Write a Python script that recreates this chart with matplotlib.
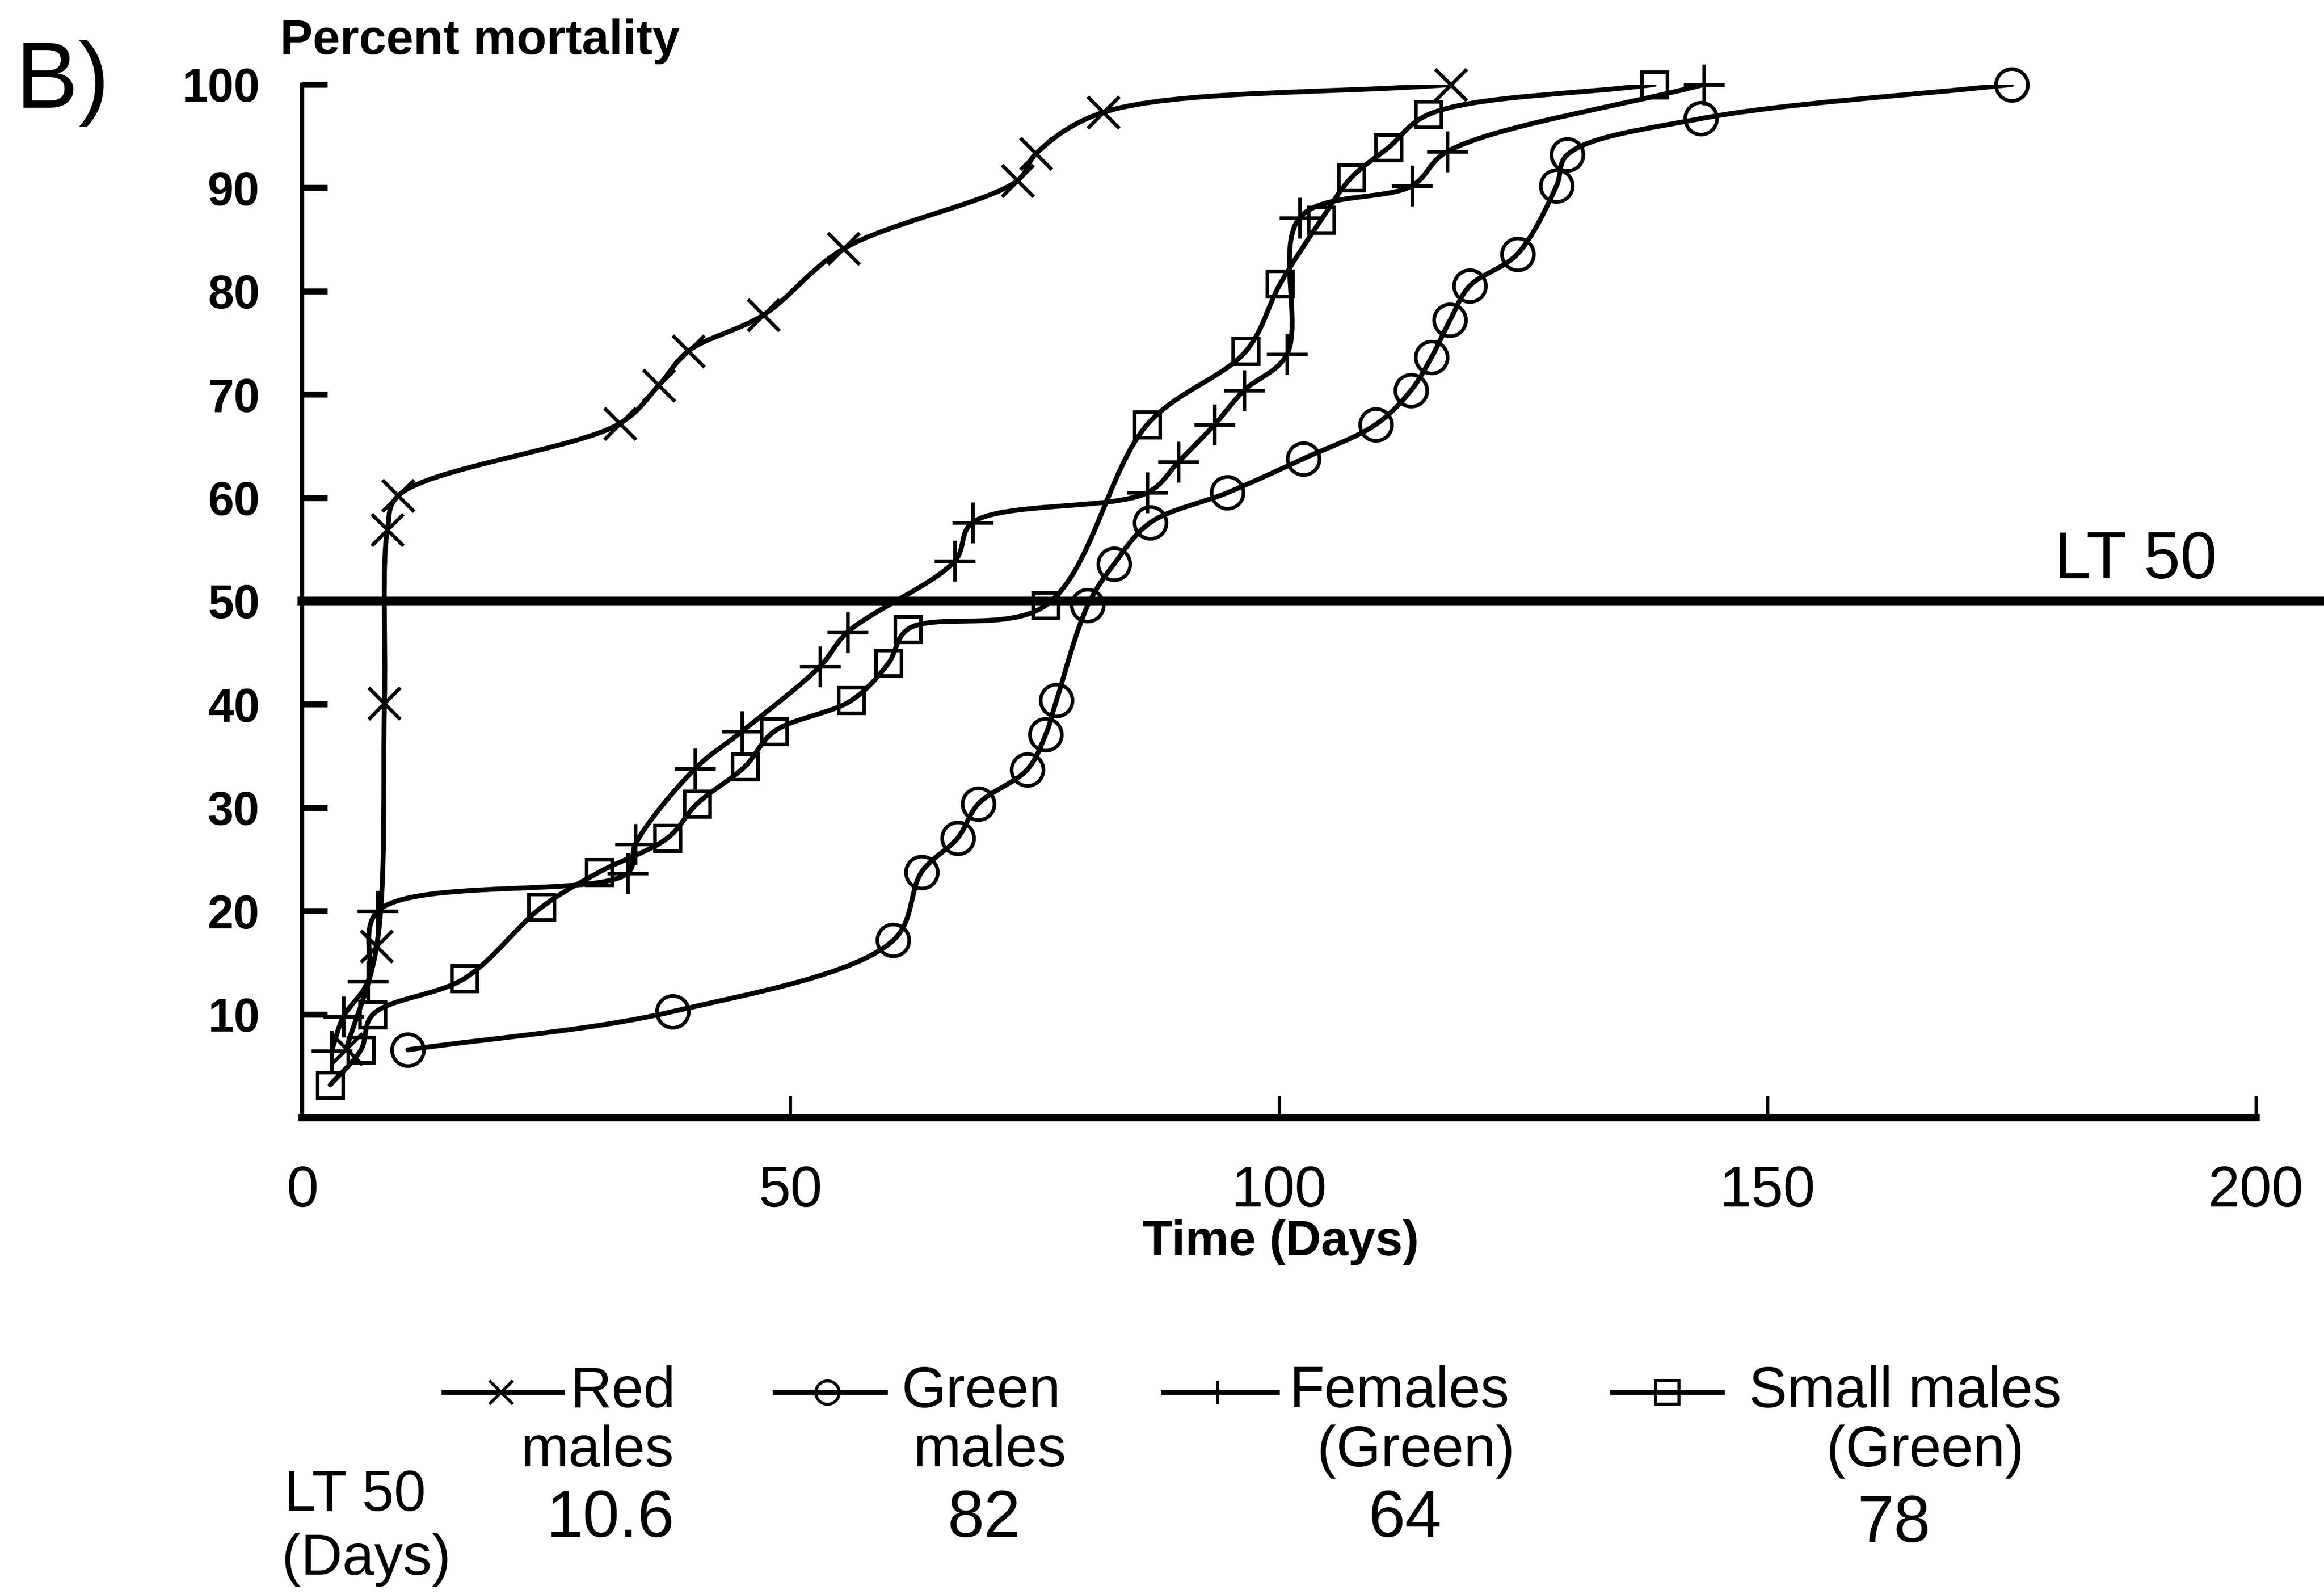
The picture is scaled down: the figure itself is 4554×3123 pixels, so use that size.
import numpy as np
import matplotlib
matplotlib.use("Agg")
import matplotlib.pyplot as plt
from matplotlib.lines import Line2D
from matplotlib.path import Path
from matplotlib.patches import PathPatch

plt.rcParams["font.family"] = ["Liberation Sans", "DejaVu Sans"]

# values (days, percent mortality)
RED_DAYS = [4.5, 7.6, 8.4, 8.7, 9.8, 32.5, 36.5, 39.5, 47.2, 55.4, 73.2, 75.1, 82.0, 117.6]
RED_PCT = [6.7, 16.6, 40.1, 56.9, 60.2, 67.2, 70.9, 74.2, 77.7, 84.1, 90.7, 93.3, 97.3, 100.0]

GREEN_DAYS = [10.8, 37.9, 60.5, 63.4, 67.1, 69.2, 74.2, 76.1, 77.2, 80.4, 83.1, 86.8,
              94.7, 102.5, 109.9, 113.5, 115.6, 117.5, 119.5, 124.4, 128.4, 129.5, 143.2, 175.0]
GREEN_PCT = [6.6, 10.3, 17.2, 23.8, 27.1, 30.4, 33.7, 37.1, 40.4, 49.6, 53.6, 57.6,
             60.5, 63.8, 67.1, 70.4, 73.6, 77.2, 80.5, 83.6, 90.2, 93.2, 96.7, 100.0]

FEMALE_DAYS = [3.0, 4.2, 6.7, 7.7, 33.3, 34.1, 40.2, 45.0, 53.0, 55.8, 66.8, 68.6,
               86.5, 89.7, 93.4, 96.4, 100.8, 102.1, 113.6, 117.2, 143.5]
FEMALE_PCT = [6.5, 9.8, 13.2, 20.0, 23.7, 26.5, 33.8, 37.4, 43.7, 47.0, 53.9, 57.6,
              60.5, 63.5, 67.1, 70.4, 73.9, 87.1, 90.2, 93.5, 100.0]

SMALL_DAYS = [2.85, 6.0, 7.2, 16.6, 24.5, 30.4, 37.4, 40.4, 45.3, 48.3, 56.2, 60.0,
              62.0, 76.1, 86.5, 96.6, 100.1, 104.3, 107.4, 111.2, 115.3, 138.4]
SMALL_PCT = [3.2, 6.6, 10.0, 13.5, 20.4, 23.8, 27.1, 30.4, 34.0, 37.4, 40.4, 44.0,
             47.3, 49.6, 67.1, 74.2, 80.7, 86.9, 91.0, 93.9, 97.1, 100.0]

LT50_LEVEL = 50
LT50_VALUES = ["10.6", "82", "64", "78"]
X_TICKS = [0, 50, 100, 150, 200]
Y_TICKS = [10, 20, 30, 40, 50, 60, 70, 80, 90, 100]

Y_ASPECT = 1.057  # one percent is a bit taller than one day on the page


def smooth_path(days, pct):
    # centripetal catmull-rom through the read points, handed to matplotlib as beziers
    p = np.column_stack([np.asarray(days, float), np.asarray(pct, float) * Y_ASPECT])
    p = np.vstack([2 * p[0] - p[1], p, 2 * p[-1] - p[-2]])
    verts = [p[1]]
    for i in range(1, len(p) - 2):
        p0, p1, p2, p3 = p[i - 1], p[i], p[i + 1], p[i + 2]
        d1 = np.linalg.norm(p1 - p0) ** 0.5
        d2 = np.linalg.norm(p2 - p1) ** 0.5
        d3 = np.linalg.norm(p3 - p2) ** 0.5
        b1 = (d1 ** 2 * p2 - d2 ** 2 * p0 + (2 * d1 ** 2 + 3 * d1 * d2 + d2 ** 2) * p1) / (3 * d1 * (d1 + d2))
        b2 = (d3 ** 2 * p1 - d2 ** 2 * p3 + (2 * d3 ** 2 + 3 * d3 * d2 + d2 ** 2) * p2) / (3 * d3 * (d3 + d2))
        verts += [b1, b2, p2]
    verts = np.array(verts)
    verts[:, 1] /= Y_ASPECT
    codes = [Path.MOVETO] + [Path.CURVE4] * (len(verts) - 1)
    return Path(verts, codes)


fig = plt.figure(figsize=(4554 / 300, 3123 / 300), dpi=300)
ax = fig.add_axes([0.1301, 0.2986, 0.8406, 0.6484])

series = (
    (RED_DAYS, RED_PCT, "x", 15),
    (GREEN_DAYS, GREEN_PCT, "o", 15),
    (FEMALE_DAYS, FEMALE_PCT, "+", 19),
    (SMALL_DAYS, SMALL_PCT, "s", 12),
)
for days, pct, marker, ms in series:
    ax.add_patch(PathPatch(smooth_path(days, pct), fill=False, ec="black", lw=2.3,
                           capstyle="round", joinstyle="round"))
    ax.plot(days, pct, ls="none", marker=marker, ms=ms, mfc="none", mec="black",
            mew=1.7, clip_on=False)

ax.axhline(LT50_LEVEL, xmin=0, xmax=1.1, color="black", lw=4.3, clip_on=False)
ax.text(196, 52.2, "LT 50", ha="right", va="baseline", fontsize=31)

ax.set_xlim(0, 200)
ax.set_ylim(0, 100)
ax.set_xticks(X_TICKS)
ax.set_yticks(Y_TICKS)
ax.spines["top"].set_visible(False)
ax.spines["right"].set_visible(False)
ax.spines["left"].set_linewidth(2.0)
ax.spines["bottom"].set_linewidth(3.4)
ax.tick_params(axis="y", direction="in", length=12, width=2.8, pad=20, labelsize=22)
ax.tick_params(axis="x", direction="in", length=10, width=1.5, pad=22, labelsize=27)
for lbl in ax.get_yticklabels():
    lbl.set_fontweight("bold")

fig.text(0.0068, 0.9475, "B)", fontsize=44, ha="left", va="center")
fig.text(0.1206, 0.974, "Percent mortality", fontsize=23, fontweight="bold",
         ha="left", va="center")
fig.text(0.551, 0.2205, "Time (Days)", fontsize=23, fontweight="bold",
         ha="center", va="center")

# legend drawn by hand: handle + two-line label + LT50 value underneath
row1, row2, row3 = 0.1265, 0.0893, 0.0465
handles = (
    ("x", 0.191, 0.242, 0.2156),
    ("o", 0.3335, 0.381, 0.356),
    ("+", 0.5006, 0.5497, 0.524),
    ("s", 0.6939, 0.7411, 0.7175),
)
for marker, x0, x1, xm in handles:
    fig.add_artist(Line2D([x0, xm, x1], [row1, row1, row1], transform=fig.transFigure,
                          color="black", lw=2.3, marker=marker, markevery=[1],
                          ms=11, mfc="none", mec="black", mew=1.4))

lab = dict(fontsize=27)
num = dict(fontsize=31)
fig.text(0.2908, row1, "Red", ha="right", va="center", **lab)
fig.text(0.2900, row2, "males", ha="right", va="center", **lab)
fig.text(0.2900, row3, LT50_VALUES[0], ha="right", va="center", **num)

fig.text(0.3878, row1, "Green", ha="left", va="center", **lab)
fig.text(0.4260, row2, "males", ha="center", va="center", **lab)
fig.text(0.4235, row3, LT50_VALUES[1], ha="center", va="center", **num)

fig.text(0.5548, row1, "Females", ha="left", va="center", **lab)
fig.text(0.6518, row2, "(Green)", ha="right", va="center", **lab)
fig.text(0.6046, row3, LT50_VALUES[2], ha="center", va="center", **num)

fig.text(0.7526, row1, "Small males", ha="left", va="center", **lab)
fig.text(0.8284, row2, "(Green)", ha="center", va="center", **lab)
fig.text(0.8150, row3 - 0.003, LT50_VALUES[3], ha="center", va="center", **num)

fig.text(0.1224, 0.0614, "LT 50", ha="left", va="center", **lab)
fig.text(0.1212, 0.0214, "(Days)", ha="left", va="center", **lab)

fig.savefig("out.png", dpi=300)
plt.close(fig)
